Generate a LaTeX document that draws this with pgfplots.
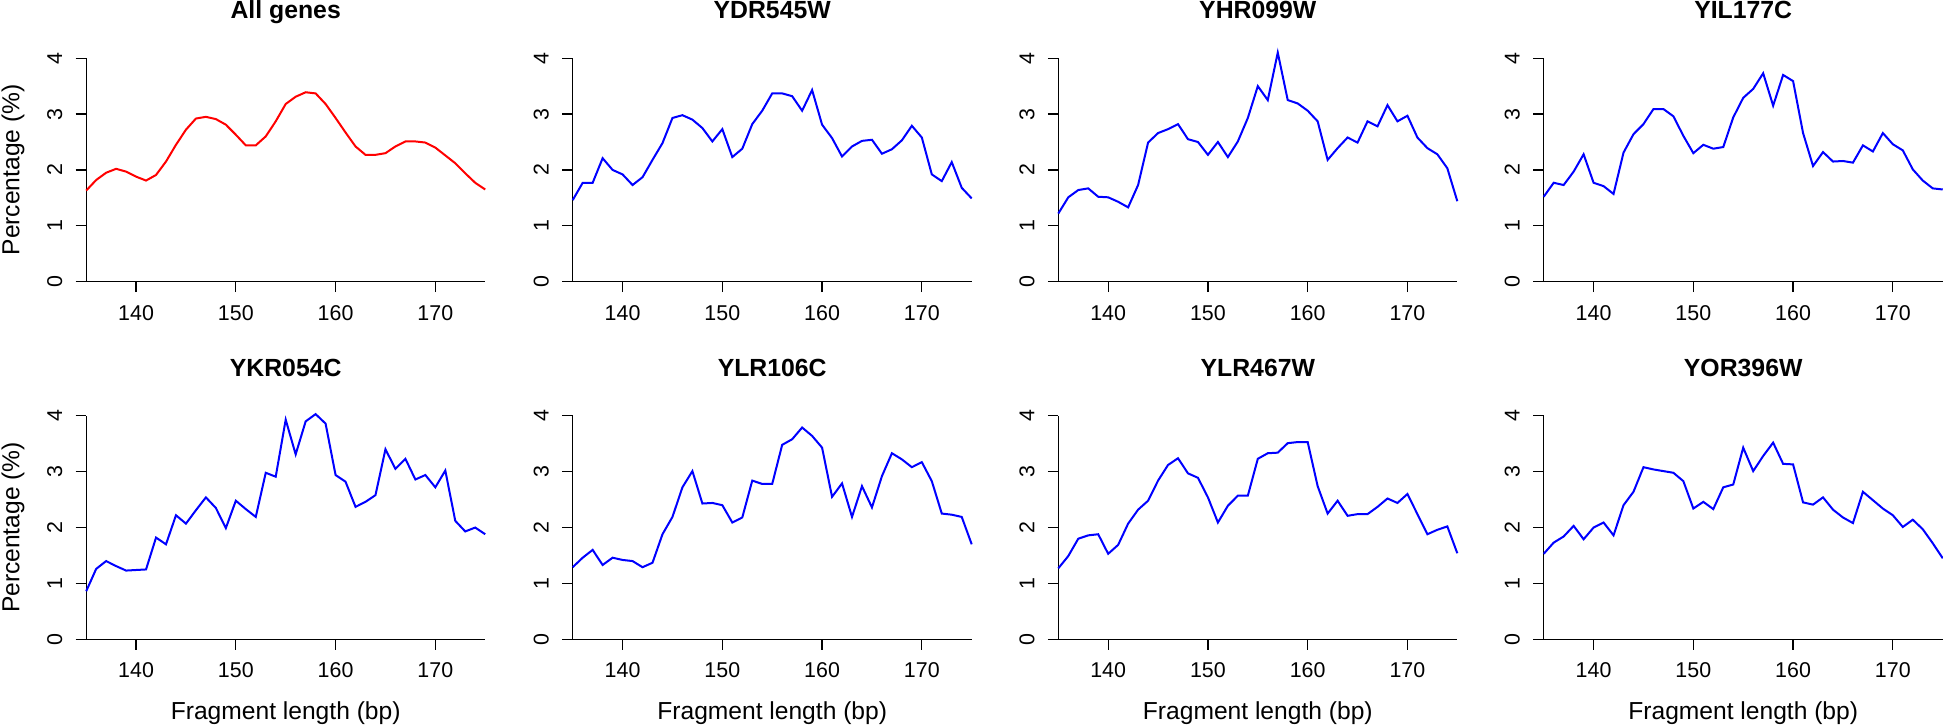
\documentclass[border=0pt]{standalone}
\usepackage{fontspec}
\setmainfont{Liberation Sans}
\usepackage{pgfplots}
\usepackage{pgfplotstable}
\pgfplotsset{compat=1.18}

\pgfplotstableread{
x   all  ydr  yhr  yil  ykr  ylra ylrb yor
135 1.63 1.46 1.22 1.52 0.86 1.29 1.27 1.53
136 1.82 1.77 1.51 1.77 1.26 1.46 1.49 1.73
137 1.95 1.77 1.64 1.73 1.40 1.60 1.80 1.84
138 2.02 2.21 1.67 1.97 1.31 1.33 1.86 2.03
139 1.97 2.00 1.52 2.28 1.23 1.46 1.88 1.79
140 1.88 1.92 1.51 1.77 1.24 1.42 1.53 2.00
141 1.81 1.73 1.43 1.71 1.25 1.40 1.69 2.09
142 1.91 1.87 1.33 1.57 1.82 1.29 2.07 1.86
143 2.15 2.18 1.73 2.31 1.70 1.37 2.32 2.40
144 2.45 2.48 2.49 2.64 2.22 1.88 2.48 2.64
145 2.72 2.93 2.66 2.82 2.07 2.19 2.84 3.08
146 2.92 2.98 2.73 3.09 2.31 2.72 3.12 3.04
147 2.95 2.90 2.82 3.09 2.54 3.01 3.24 3.01
148 2.91 2.75 2.55 2.96 2.35 2.43 2.97 2.98
149 2.81 2.51 2.50 2.61 1.99 2.44 2.89 2.83
150 2.63 2.73 2.27 2.30 2.48 2.40 2.54 2.34
151 2.44 2.23 2.50 2.45 2.33 2.09 2.09 2.46
152 2.44 2.38 2.23 2.38 2.19 2.18 2.39 2.33
153 2.60 2.82 2.51 2.41 2.98 2.84 2.57 2.72
154 2.87 3.06 2.93 2.94 2.91 2.78 2.57 2.77
155 3.18 3.37 3.50 3.29 3.93 2.78 3.23 3.43
156 3.31 3.37 3.25 3.45 3.31 3.48 3.33 3.01
157 3.39 3.32 4.10 3.73 3.90 3.58 3.34 3.28
158 3.37 3.06 3.25 3.15 4.03 3.79 3.51 3.52
159 3.18 3.43 3.19 3.70 3.86 3.64 3.53 3.14
160 2.93 2.81 3.06 3.59 2.94 3.43 3.53 3.13
161 2.67 2.57 2.87 2.66 2.82 2.55 2.74 2.45
162 2.42 2.24 2.18 2.07 2.37 2.79 2.25 2.41
163 2.27 2.42 2.39 2.32 2.46 2.19 2.48 2.54
164 2.27 2.52 2.58 2.15 2.58 2.74 2.21 2.32
165 2.30 2.54 2.49 2.16 3.40 2.36 2.24 2.18
166 2.42 2.29 2.87 2.13 3.05 2.92 2.24 2.08
167 2.51 2.37 2.78 2.44 3.23 3.33 2.37 2.64
168 2.51 2.53 3.16 2.33 2.86 3.22 2.52 2.49
169 2.49 2.79 2.87 2.66 2.94 3.08 2.44 2.34
170 2.40 2.58 2.97 2.46 2.72 3.17 2.60 2.22
171 2.26 1.92 2.58 2.35 3.02 2.83 2.24 2.01
172 2.12 1.80 2.39 2.01 2.12 2.25 1.88 2.14
173 1.94 2.14 2.28 1.81 1.93 2.23 1.96 1.97
174 1.77 1.68 2.03 1.67 2.00 2.19 2.02 1.72
175 1.65 1.49 1.44 1.65 1.88 1.70 1.54 1.45
}\data

\pgfplotsset{
  panel/.style={
    scale only axis, width=199.5pt, height=111.75pt,
    anchor=south west,
    xmin=135, xmax=175, ymin=0, ymax=4,
    axis x line*=bottom, axis y line*=left,
    axis line style={-, line width=0.65pt, black},
    xtick={140,150,160,170}, ytick={0,1,2,3,4},
    minor tick num=0,
    tick align=outside, major tick length=5.25pt,
    tick style={black, line width=0.65pt},
    tick label style={font=\fontsize{10.7}{12}\selectfont},
    /pgf/number format/assume math mode=true,
    /pgf/number format/1000 sep={},
    xticklabel style={anchor=base},
    xticklabel shift=13.95pt,
    yticklabel style={rotate=90, anchor=base},
    yticklabel shift=6.75pt,
    title style={font=\fontsize{12.4}{14}\selectfont\bfseries,
      at={(axis description cs:0.5,1.1217)}, anchor=base},
    xlabel style={font=\fontsize{12.3}{14}\selectfont,
      at={(axis description cs:0.5,-0.3611)}, anchor=base},
    ylabel style={font=\fontsize{12.3}{14}\selectfont,
      at={(axis description cs:-0.1677,0.5)}, anchor=base, rotate=0},
    clip=false,
  },
  gene/.style={blue, line width=1pt, no marks},
}

\begin{document}
\begin{tikzpicture}
\useasboundingbox (0,0) rectangle (971.5pt,363pt);

\begin{axis}[panel, at={(43.1pt,222.15pt)}, title={All genes}, ylabel={Percentage (\%)}]
\addplot[red, line width=1pt, no marks] table[x=x, y=all] {\data};
\end{axis}
\begin{axis}[panel, at={(286.35pt,222.15pt)}, title={YDR545W}]
\addplot[gene] table[x=x, y=ydr] {\data};
\end{axis}
\begin{axis}[panel, at={(529.15pt,222.15pt)}, title={YHR099W}]
\addplot[gene] table[x=x, y=yhr] {\data};
\end{axis}
\begin{axis}[panel, at={(771.85pt,222.15pt)}, title={YIL177C}]
\addplot[gene] table[x=x, y=yil] {\data};
\end{axis}

\begin{axis}[panel, at={(43.1pt,43.35pt)}, title={YKR054C}, ylabel={Percentage (\%)}, xlabel={Fragment length (bp)}]
\addplot[gene] table[x=x, y=ykr] {\data};
\end{axis}
\begin{axis}[panel, at={(286.35pt,43.35pt)}, title={YLR106C}, xlabel={Fragment length (bp)}]
\addplot[gene] table[x=x, y=ylra] {\data};
\end{axis}
\begin{axis}[panel, at={(529.15pt,43.35pt)}, title={YLR467W}, xlabel={Fragment length (bp)}]
\addplot[gene] table[x=x, y=ylrb] {\data};
\end{axis}
\begin{axis}[panel, at={(771.85pt,43.35pt)}, title={YOR396W}, xlabel={Fragment length (bp)}]
\addplot[gene] table[x=x, y=yor] {\data};
\end{axis}
\end{tikzpicture}
\end{document}
